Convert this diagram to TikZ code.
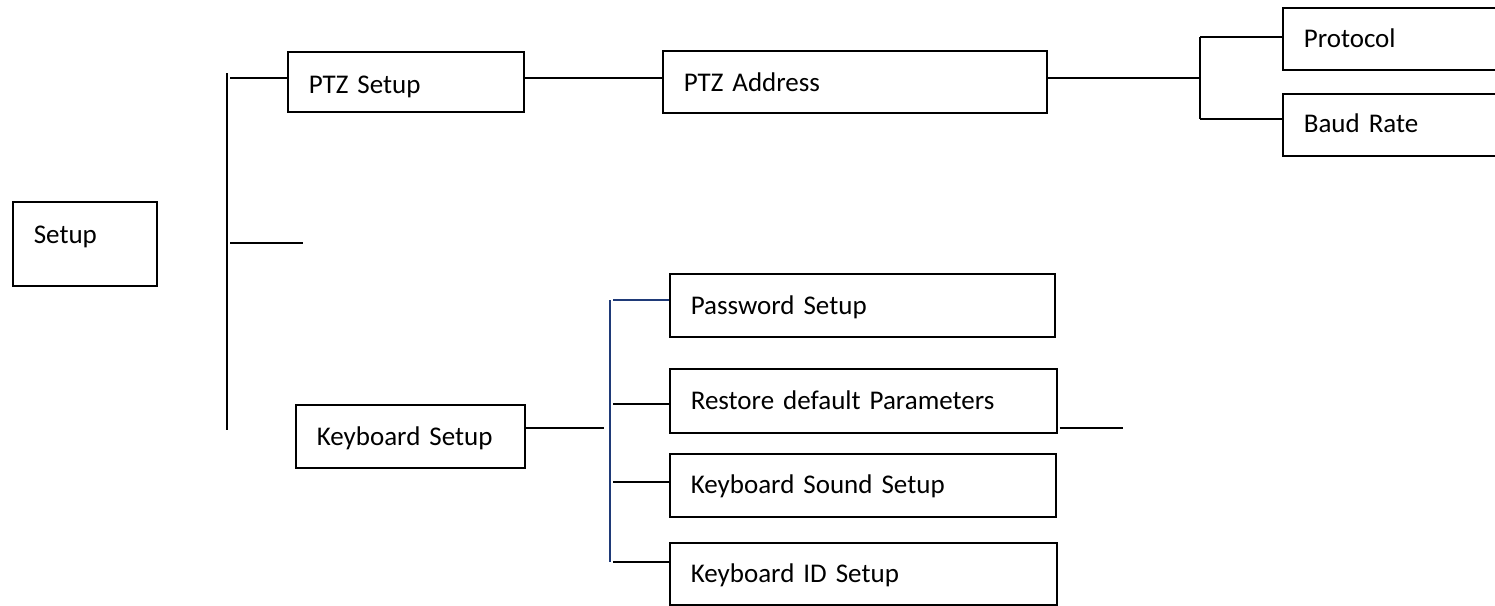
\documentclass[tikz,border=0pt]{standalone}
\usepackage{fontspec}
\setmainfont{Carlito}
\definecolor{navyline}{HTML}{1F3A78}
\begin{document}
\begin{tikzpicture}[x=1pt,y=-1pt,
  box/.style={draw, line width=1.6pt, anchor=north west, inner xsep=21pt, inner ysep=0pt,
    align=left, font=\fontsize{27}{32}\selectfont},
  conn/.style={line width=1.6pt},
  blueconn/.style={line width=1.3pt, draw=navyline}]
\useasboundingbox (0,0) rectangle (1495,605);
\clip (0,0) rectangle (1495,605);
% boxes
\node[box, text width=102pt, text height=42pt, text depth=42pt] (setup) at (12,201) {Setup};
\node[box, text width=194pt, text height=42pt, text depth=18pt] (ptz) at (287,51) {PTZ Setup};
\node[box, text width=342pt, text height=41pt, text depth=21pt] (addr) at (662,50) {PTZ Address};
\node[box, text width=200pt, text height=40pt, text depth=22pt] (proto) at (1282,7) {Protocol};
\node[box, text width=200pt, text height=39pt, text depth=23pt] (baud) at (1282,93) {Baud Rate};
\node[box, text width=187pt, text height=41pt, text depth=22pt] (kb) at (295,404) {Keyboard Setup};
\node[box, text width=343pt, text height=41pt, text depth=22pt] (pw) at (669,273) {Password Setup};
\node[box, text width=345pt, text height=41pt, text depth=23pt] (rest) at (669,368) {Restore default Parameters};
\node[box, text width=344pt, text height=40pt, text depth=23pt] (snd) at (669,453) {Keyboard Sound Setup};
\node[box, text width=345pt, text height=40pt, text depth=22pt] (kid) at (669,542) {Keyboard ID Setup};
% helper coordinates
\coordinate (vtop) at (227,73);
\coordinate (vbot) at (227,430);
\coordinate (t1) at (230,78);
\coordinate (t2a) at (230,243);
\coordinate (t2b) at (303,243);
\coordinate (y78) at (0,78);
\coordinate (pb) at (1200,78);
\coordinate (ptop) at (1200,37);
\coordinate (pbot) at (1200,119);
\coordinate (kbend) at (604,428);
\coordinate (y428) at (0,428);
\coordinate (btop) at (610,300);
\coordinate (bbot) at (610,562);
\coordinate (b1) at (613,300);
\coordinate (b2) at (613,404);
\coordinate (b3) at (613,482);
\coordinate (b4) at (613,562);
\coordinate (rend) at (1123,428);
% Setup bracket
\draw[conn] (vtop) -- (vbot);
\draw[conn] (t1) -- (ptz.west |- t1);
\draw[conn] (t2a) -- (t2b);
% PTZ chain
\draw[conn] (ptz.east |- y78) -- (addr.west |- y78);
\draw[conn] (addr.east |- y78) -- (pb);
\draw[conn] (ptop) -- (pbot);
\draw[conn] (ptop) -- (proto.west |- ptop);
\draw[conn] (pbot) -- (baud.west |- pbot);
% Keyboard chain
\draw[conn] (kb.east |- y428) -- (kbend);
\draw[blueconn] (btop) -- (bbot);
\draw[blueconn, line width=1.6pt] (b1) -- (pw.west |- b1);
\draw[conn] (b2) -- (rest.west |- b2);
\draw[conn] (b3) -- (snd.west |- b3);
\draw[conn] (b4) -- (kid.west |- b4);
\draw[conn] ([xshift=2pt]rest.east |- y428) -- (rend);
\end{tikzpicture}
\end{document}
